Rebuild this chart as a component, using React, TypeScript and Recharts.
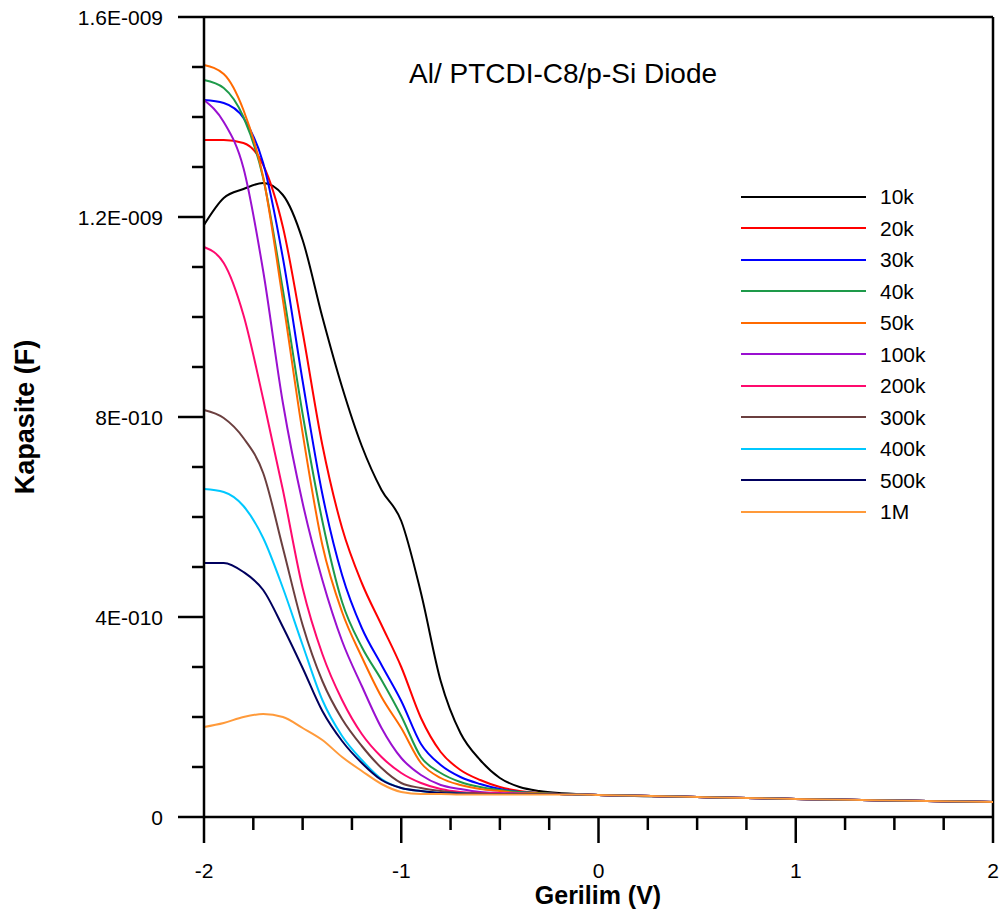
import React from "react";
import { Line, LineChart, ReferenceLine, XAxis, YAxis } from "recharts";

// capacitance values are in units of 1E-10 F
const voltage = [
  -2, -1.9, -1.8, -1.7, -1.6, -1.5, -1.4, -1.3, -1.2, -1.1, -1, -0.9, -0.8,
  -0.7, -0.6, -0.5, -0.4, -0.3, -0.2, -0.1, 0, 0.5, 1, 1.5, 2,
];

const c10k = [11.84, 12.38, 12.56, 12.68, 12.44, 11.54, 10.0, 8.6, 7.42, 6.54, 5.92, 4.48, 2.72, 1.68, 1.14, 0.78, 0.6, 0.52, 0.48, 0.46, 0.44, 0.4, 0.36, 0.33, 0.3];
const c20k = [13.54, 13.54, 13.48, 13.04, 11.8, 9.7, 7.44, 5.78, 4.68, 3.84, 3.0, 1.98, 1.3, 0.94, 0.74, 0.6, 0.52, 0.48, 0.46, 0.45, 0.44, 0.4, 0.36, 0.33, 0.3];
const c30k = [14.34, 14.28, 13.98, 13.08, 11.18, 8.72, 6.46, 4.84, 3.78, 3.04, 2.32, 1.46, 1.04, 0.8, 0.66, 0.56, 0.5, 0.48, 0.46, 0.45, 0.44, 0.4, 0.36, 0.33, 0.3];
const c40k = [14.74, 14.58, 14.0, 12.78, 10.54, 8.06, 5.92, 4.3, 3.4, 2.74, 2.02, 1.2, 0.88, 0.7, 0.6, 0.54, 0.5, 0.48, 0.46, 0.45, 0.44, 0.4, 0.36, 0.33, 0.3];
const c50k = [15.04, 14.86, 14.14, 12.8, 10.34, 7.68, 5.44, 4.1, 3.2, 2.4, 1.78, 1.08, 0.78, 0.64, 0.56, 0.52, 0.48, 0.47, 0.46, 0.45, 0.44, 0.4, 0.36, 0.33, 0.3];
const c100k = [14.34, 13.9, 12.98, 10.92, 8.28, 6.28, 4.74, 3.52, 2.62, 1.78, 1.18, 0.84, 0.64, 0.56, 0.5, 0.48, 0.47, 0.46, 0.46, 0.45, 0.44, 0.4, 0.36, 0.33, 0.3];
const c200k = [11.4, 11.08, 10.04, 8.36, 6.54, 4.58, 3.26, 2.34, 1.66, 1.2, 0.88, 0.68, 0.56, 0.5, 0.48, 0.47, 0.46, 0.46, 0.46, 0.45, 0.44, 0.4, 0.36, 0.33, 0.3];
const c300k = [8.14, 7.98, 7.58, 6.88, 5.38, 3.84, 2.72, 1.96, 1.42, 0.98, 0.68, 0.58, 0.52, 0.48, 0.47, 0.46, 0.46, 0.46, 0.46, 0.45, 0.44, 0.4, 0.36, 0.33, 0.3];
const c400k = [6.56, 6.5, 6.22, 5.58, 4.58, 3.44, 2.34, 1.62, 1.14, 0.76, 0.58, 0.52, 0.48, 0.47, 0.46, 0.46, 0.46, 0.46, 0.46, 0.45, 0.44, 0.4, 0.36, 0.33, 0.3];
const c500k = [5.08, 5.08, 4.9, 4.54, 3.8, 2.98, 2.12, 1.52, 1.08, 0.74, 0.58, 0.52, 0.48, 0.47, 0.46, 0.46, 0.46, 0.46, 0.46, 0.45, 0.44, 0.4, 0.36, 0.33, 0.3];
const c1M = [1.8, 1.88, 2.0, 2.06, 2.0, 1.78, 1.54, 1.2, 0.92, 0.66, 0.5, 0.46, 0.46, 0.45, 0.45, 0.45, 0.45, 0.45, 0.45, 0.45, 0.44, 0.4, 0.36, 0.33, 0.3];

const seriesNames = ["10k", "20k", "30k", "40k", "50k", "100k", "200k", "300k", "400k", "500k", "1M"];
const seriesValues = [c10k, c20k, c30k, c40k, c50k, c100k, c200k, c300k, c400k, c500k, c1M];
const seriesColors = ["#000000", "#ff0000", "#0000ff", "#1e9a4a", "#ff6a00", "#9a10d0", "#ff0a6e", "#6b3f3f", "#00c8ff", "#00005e", "#ff9a3a"];

const xTicks = [-2, -1.75, -1.5, -1.25, -1, -0.75, -0.5, -0.25, 0, 0.25, 0.5, 0.75, 1, 1.25, 1.5, 1.75, 2];
const yTicks = [0, 1, 2, 3, 4, 5, 6, 7, 8, 9, 10, 11, 12, 13, 14, 15, 16];
const yLabels: Record<number, string> = { 0: "0", 4: "4E-010", 8: "8E-010", 12: "1.2E-009", 16: "1.6E-009" };

const data = voltage.map((v, i) => {
  const row: Record<string, number> = { v };
  seriesNames.forEach((name, s) => (row[name] = seriesValues[s][i]));
  return row;
});

const FONT = "'Liberation Sans', Arial, sans-serif";

function XTick({ x, y, payload }: any) {
  const major = Number.isInteger(payload.value);
  return (
    <g>
      <line x1={x} x2={x} y1={y} y2={y + (major ? 26 : 13)} stroke="#000" strokeWidth={2.5} />
      {major && (
        <text x={x} y={y + 61} textAnchor="middle" fontSize={21} fontFamily={FONT} fill="#000">
          {payload.value}
        </text>
      )}
    </g>
  );
}

function YTick({ x, y, payload }: any) {
  const label = yLabels[payload.value];
  return (
    <g>
      <line x1={x - (label ? 26 : 12)} x2={x} y1={y} y2={y} stroke="#000" strokeWidth={2.5} />
      {label && (
        <text x={x - 41} y={y} dy="0.36em" textAnchor="end" fontSize={21} fontFamily={FONT} fill="#000">
          {label}
        </text>
      )}
    </g>
  );
}

function LegendBox() {
  return (
    <div style={{ position: "absolute", left: 741, top: 181, fontFamily: FONT, fontSize: 21 }}>
      {seriesNames.map((name, s) => (
        <div key={name} style={{ display: "flex", alignItems: "center", height: 31.5 }}>
          <div style={{ width: 125, height: 2, background: seriesColors[s] }} />
          <span style={{ marginLeft: 14, lineHeight: "21px" }}>{name}</span>
        </div>
      ))}
    </div>
  );
}

export default function App() {
  return (
    <div style={{ position: "absolute", left: 0, top: 0, width: 1002, height: 917, background: "#fff" }}>
      <LineChart width={1002} height={917} data={data} margin={{ top: 17, right: 9, left: 0, bottom: 0 }}>
        <XAxis
          dataKey="v"
          type="number"
          domain={[-2, 2]}
          ticks={xTicks}
          interval={0}
          height={100}
          tickSize={0}
          tickMargin={0}
          tickLine={false}
          tick={<XTick />}
          axisLine={{ stroke: "#000", strokeWidth: 2.5 }}
        />
        <YAxis
          type="number"
          domain={[0, 16]}
          ticks={yTicks}
          interval={0}
          width={204}
          tickSize={0}
          tickMargin={0}
          tickLine={false}
          tick={<YTick />}
          axisLine={{ stroke: "#000", strokeWidth: 2.5 }}
        />
        <ReferenceLine y={16} stroke="#000" strokeWidth={2.5} />
        <ReferenceLine x={2} stroke="#000" strokeWidth={2.5} />
        {seriesNames.map((name, s) => (
          <Line
            key={name}
            dataKey={name}
            name={name}
            stroke={seriesColors[s]}
            strokeWidth={2}
            dot={false}
            type="monotone"
            isAnimationActive={false}
          />
        ))}
      </LineChart>
      <LegendBox />
      <div style={{ position: "absolute", left: 0, width: 1002, top: 0, pointerEvents: "none", fontFamily: FONT }}>
        <div style={{ position: "absolute", left: 409, top: 58, fontSize: 28, whiteSpace: "nowrap" }}>Al/ PTCDI-C8/p-Si Diode</div>
        <div style={{ position: "absolute", left: 0, width: 1196, top: 881, textAlign: "center", fontSize: 25, fontWeight: "bold" }}>Gerilim (V)</div>
        <div style={{ position: "absolute", left: 25, top: 417, fontSize: 27, fontWeight: "bold", whiteSpace: "nowrap", transform: "translate(-50%, -50%) rotate(-90deg)" }}>Kapasite (F)</div>
      </div>
    </div>
  );
}
